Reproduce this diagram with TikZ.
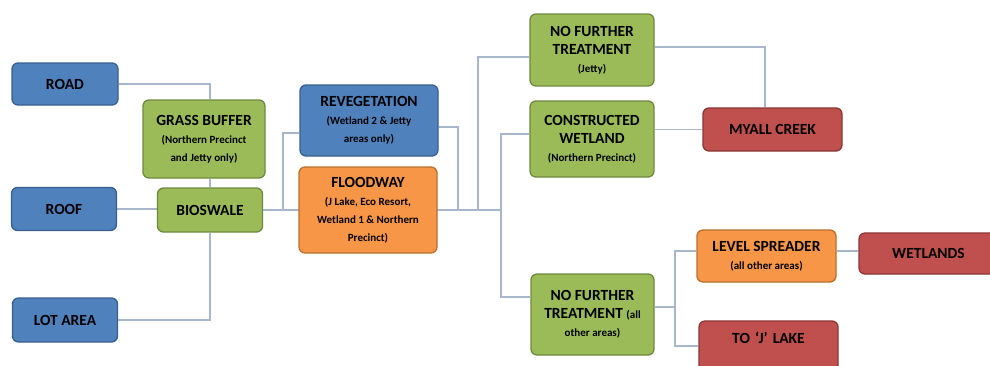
\documentclass[tikz,border=0pt]{standalone}
\usepackage{fontspec}
\setmainfont{Carlito}
\usetikzlibrary{backgrounds}
\definecolor{bluefill}{HTML}{4F81BD}
\definecolor{blueedge}{HTML}{38608F}
\definecolor{greenfill}{HTML}{9BBB59}
\definecolor{greenedge}{HTML}{6E8A3C}
\definecolor{orangefill}{HTML}{F79646}
\definecolor{orangeedge}{HTML}{B8702F}
\definecolor{redfill}{HTML}{C0504D}
\definecolor{rededge}{HTML}{8A3634}
\definecolor{linkcol}{HTML}{A8B7CC}
\newcommand{\subtxt}[1]{{\fontsize{11}{15}\selectfont #1}}

\begin{document}
\begin{tikzpicture}[x=1pt,y=-1pt,
	box/.style={draw, rounded corners=6pt, line width=1.3pt, inner sep=0pt, align=center, text=black, font=\bfseries\fontsize{15.5}{18}\selectfont},
	bluebox/.style={box, fill=bluefill, draw=blueedge},
	greenbox/.style={box, fill=greenfill, draw=greenedge},
	orangebox/.style={box, fill=orangefill, draw=orangeedge},
	redbox/.style={box, fill=redfill, draw=rededge},
	link/.style={draw=linkcol, line width=1.1pt}]
		\useasboundingbox (0,0) rectangle (990,365);
		\clip (0,0) rectangle (990,365);
		\node[bluebox, minimum width=106pt, minimum height=42pt] (road) at (65,84) {ROAD};
		\node[bluebox, minimum width=105pt, minimum height=43pt] (roof) at (64,209) {ROOF};
		\node[bluebox, minimum width=105pt, minimum height=44pt] (lot) at (65,320) {LOT AREA};
		\node[greenbox, minimum width=122pt, minimum height=78pt] (grass) at (204,139) {GRASS BUFFER\\\subtxt{(Northern Precinct}\\\subtxt{and Jetty only)}};
		\node[greenbox, minimum width=105pt, minimum height=44pt] (bio) at (210,210) {BIOSWALE};
		\node[bluebox, minimum width=138pt, minimum height=71pt] (reveg) at (369,120.5) {REVEGETATION\\\subtxt{(Wetland 2 \& Jetty}\\\subtxt{areas only)}};
		\node[orangebox, minimum width=138pt, minimum height=86pt] (flood) at (368,210) {FLOODWAY\\\subtxt{(J Lake, Eco Resort,}\\\subtxt{Wetland 1 \& Northern}\\\subtxt{Precinct)}};
		\node[greenbox, minimum width=124pt, minimum height=72pt] (nftjetty) at (592,50) {NO FURTHER\\TREATMENT\\\subtxt{(Jetty)}};
		\node[greenbox, minimum width=124pt, minimum height=76pt] (wetland) at (592,139) {CONSTRUCTED\\WETLAND\\\subtxt{(Northern Precinct)}};
		\node[greenbox, minimum width=123pt, minimum height=81pt] (nftother) at (592.5,314.5) {NO FURTHER\\TREATMENT \subtxt{(all}\\\subtxt{other areas)}};
		\node[redbox, minimum width=139pt, minimum height=43pt] (myall) at (772.5,129.5) {MYALL CREEK};
		\node[orangebox, minimum width=139pt, minimum height=52pt] (spreader) at (766.5,256) {LEVEL SPREADER\\\subtxt{(all other areas)}};
		\node[redbox, minimum width=139pt, minimum height=41pt] (wetlands) at (928.5,253.5) {WETLANDS};
		\node[redbox, text width=139pt, text height=22.5pt, text depth=27.5pt] (lake) at (768.5,346) {TO `J' LAKE};
		\coordinate (fork) at (283,210);
		\coordinate (join) at (458,210);
		\coordinate (jetty) at (478,210);
		\coordinate (split) at (501,210);
		\coordinate (spread) at (675,307);
		\begin{scope}[on background layer]
		\draw[link] (road.east) -| (grass.north -| bio.north);
		\draw[link] (grass.south -| bio.north) -- (bio.north);
		\draw[link] (roof.east) -- (roof.east -| bio.west);
		\draw[link] (bio.south) |- (lot.east);
		\draw[link] (bio.east) -- (split);
		\draw[link] ([yshift=-12.5pt]reveg.west) -| (fork);
		\draw[link] ([yshift=-6.5pt]reveg.east) -| (join);
		\draw[link] ([yshift=-7pt]nftjetty.west) -| (jetty);
		\draw[link] ([yshift=5pt]wetland.west) -| (split) |- ([yshift=17.5pt]nftother.west);
		\draw[link] ([yshift=3pt]nftjetty.east) -| ([xshift=-7.5pt]myall.north);
		\draw[link] (wetland.east |- myall.west) -- (myall.west);
		\draw[link] ([yshift=7.5pt]nftother.east) -- (spread);
		\draw[link] ([yshift=5pt]spreader.west) -| (spread) |- (lake.west);
		\draw[link] ([yshift=5pt]spreader.east) -- ([yshift=5pt]spreader.east -| wetlands.west);
		\end{scope}
\end{tikzpicture}
\end{document}
